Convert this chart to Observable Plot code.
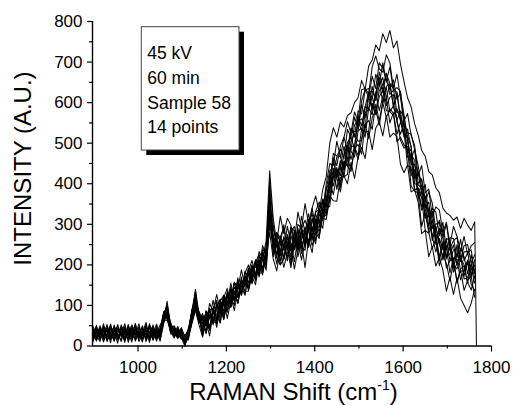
<!DOCTYPE html>
<html>
<head>
<meta charset="utf-8">
<script src="https://cdn.jsdelivr.net/npm/d3@7"></script>
<script src="https://cdn.jsdelivr.net/npm/@observablehq/plot@0.6"></script>
<style>
  html, body { margin: 0; padding: 0; background: #fff; }
  #chart svg { display: block; }
</style>
</head>
<body>
<div id="chart"></div>
<script>
// Raman shift positions (cm-1)
const ramanShift = [
  898,906,914,922,930,938,946,954,962,970,978,986,994,1002,1010,1018,1026,1034,1042,1050,
  1058,1066,1074,1082,1090,1098,1106,1114,1122,1130,1138,
  1146,1154,1162,1170,1178,1186,1194,1202,1210,1218,1226,1234,1242,1250,1258,1266,1274,1282,1290,
  1298,
  1306,1314,1322,1330,1338,1346,1354,1362,1370,1378,1386,1394,1402,1410,1418,1426,
  1434,1442,1450,1458,1466,1474,1482,1490,1498,1506,1514,1522,1530,1538,1546,1554,1562,1570,1578,1586,1594,
  1602,1610,1618,1626,1634,1642,1650,1658,1666,1674,1682,1690,1698,1706,1714,1722,1730,1738,1746,1754,1762,
  1766
];

// 14 measured spectra (intensity, A.U.)
const spectrum1 = [30,12,45,22,38,8,52,27,15,41,33,10,47,24,36,18,55,20,29,44,
  82,95,40,25,45,22,12,35,88,135,62,
  77,50,105,85,127,87,120,142,105,155,140,188,148,185,211,175,233,215,260,
  432,
  315,255,320,277,315,298,260,330,290,351,301,340,370,330,385,418,
  500,538,515,552,540,568,575,600,612,655,632,690,705,742,728,770,748,778,735,752,695,
  652,612,590,548,520,482,468,430,422,390,378,340,328,322,310,318,290,315,298,285,306,
  0];
const spectrum2 = [18,40,25,55,14,33,46,21,38,9,50,28,17,43,31,58,22,35,12,40,
  65,104,52,38,20,41,8,26,70,118,80,
  45,87,67,113,67,110,125,103,155,115,150,127,180,200,170,206,186,248,220,
  380,
  250,280,255,299,240,293,283,252,320,281,326,280,332,355,332,400,
  450,445,505,465,513,553,525,577,555,632,635,622,688,715,683,675,718,698,635,670,612,
  555,573,520,495,420,445,378,387,317,343,335,280,305,250,295,270,233,270,225,247,255];
const spectrum3 = [42,20,35,10,48,29,16,53,25,39,14,45,31,22,50,11,37,26,44,19,
  74,72,33,46,28,19,25,40,62,102,58,
  80,50,88,52,95,115,77,122,115,158,120,160,145,192,153,211,208,193,240,
  345,
  290,255,222,270,240,293,238,275,295,248,301,327,285,328,363,343,
  387,464,445,492,515,482,537,515,580,572,631,635,610,670,645,698,653,633,656,608,625,
  570,505,462,485,445,385,398,323,340,330,272,305,237,267,265,218,263,210,230,237,180];
const spectrum4 = [25,48,15,36,27,54,19,31,45,13,38,24,56,17,34,42,21,48,30,15,
  58,88,48,22,39,35,3,24,81,125,74,
  28,63,93,60,57,108,102,85,140,117,157,127,185,155,190,163,218,216,202,
  360,
  245,273,260,215,272,235,285,235,270,293,246,308,325,300,360,342,
  415,462,417,445,492,457,535,528,530,595,563,625,628,610,675,640,673,620,630,626,558,
  515,535,490,417,422,408,340,355,290,300,305,238,265,260,204,250,208,232,233,175,200];
const spectrum5 = [10,35,28,46,20,41,33,7,49,26,18,44,29,37,13,46,32,16,40,27,
  77,68,55,30,48,26,18,15,66,96,83,
  55,83,47,87,60,115,85,135,95,133,107,163,150,190,163,210,170,220,240,
  330,
  265,218,270,250,210,273,240,290,240,280,304,260,313,280,335,367,
  387,423,466,468,434,492,482,545,557,530,590,585,640,605,643,662,610,646,635,575,580,
  565,515,448,448,377,397,365,295,333,270,282,283,220,227,249,200,241,220,178,225,178];
const spectrum6 = [37,22,50,17,31,44,12,39,28,55,21,34,16,48,25,39,9,43,31,52,
  63,110,38,42,25,44,22,37,90,108,65,
  68,30,75,57,104,82,125,83,127,145,120,170,127,175,200,176,213,183,228,
  395,
  220,260,235,267,257,220,282,240,282,243,286,315,273,338,313,360,
  423,395,435,420,473,495,460,493,553,560,540,615,582,625,650,600,640,646,592,558,578,
  520,518,493,413,430,375,320,340,312,250,290,265,218,255,192,227,230,172,210,170,213];
const spectrum7 = [28,51,19,40,11,35,47,24,33,18,42,30,53,20,38,27,45,14,36,23,
  85,76,30,28,36,20,0,29,72,140,77,
  22,70,87,65,100,65,107,130,97,130,163,125,167,140,196,196,176,233,208,
  320,
  275,225,262,214,275,240,265,283,228,286,256,310,303,292,357,323,
  366,424,440,400,455,445,505,523,505,507,575,583,615,575,630,638,593,613,620,552,522,
  550,465,472,458,380,343,370,330,270,295,252,220,263,210,237,240,185,185,212,193,155];
const spectrum8 = [46,16,32,25,53,19,38,30,11,46,27,50,22,35,44,15,29,52,18,38,
  60,84,58,35,18,38,26,21,58,98,60,
  57,34,90,92,67,102,66,120,120,100,157,132,172,144,180,213,180,180,239,
  350,
  227,267,210,249,268,208,265,240,285,268,243,295,260,330,338,325,
  390,436,386,440,416,482,480,466,530,537,515,587,570,623,580,615,638,578,568,585,555,
  520,513,420,435,363,385,338,285,310,277,220,257,215,243,182,205,223,165,168,200,185];
const spectrum9 = [20,37,43,13,29,50,25,44,35,21,53,16,39,28,10,47,34,23,49,31,
  72,66,41,50,30,17,14,44,80,115,71,
  37,75,38,88,87,57,114,85,138,108,148,148,125,180,163,208,175,215,187,
  310,
  248,202,250,262,217,253,208,270,245,236,301,263,313,310,290,355,
  405,373,422,446,417,423,493,491,470,535,527,530,598,570,615,630,580,578,592,558,507,
  488,492,465,385,390,335,350,328,270,232,265,238,245,180,217,213,163,185,205,152,137];
const spectrum10 = [33,26,11,49,37,23,45,15,52,30,25,41,12,33,46,29,51,37,20,44,
  68,92,35,20,42,31,9,27,64,104,86,
  64,52,42,92,46,94,69,125,99,135,105,162,157,142,198,160,202,190,230,
  340,
  267,217,200,249,240,193,263,220,263,283,246,278,252,325,315,312,
  365,416,433,390,455,443,430,488,497,473,546,556,534,596,555,602,610,550,575,522,552,
  528,445,440,385,388,365,285,278,298,265,210,250,192,210,217,155,190,198,157,138,173];
const spectrum11 = [15,44,31,27,42,16,36,49,22,34,47,19,40,31,24,53,14,41,25,36,
  79,74,50,39,24,45,21,33,76,120,68,
  35,86,76,56,105,81,125,103,96,156,150,130,180,176,156,206,226,189,233,
  370,
  243,280,267,237,295,253,237,300,290,258,313,265,330,337,310,385,
  433,438,416,457,436,502,515,486,565,543,590,626,589,621,662,625,671,648,592,624,562,
  545,525,523,485,400,412,357,380,352,285,310,270,300,240,260,267,210,248,250,205,225];
const spectrum12 = [49,29,38,20,45,32,13,41,27,48,9,37,26,55,18,32,43,28,38,12,
  55,81,44,27,38,23,17,19,60,92,57,
  68,33,75,70,54,105,65,107,123,87,140,157,135,135,193,170,206,226,195,
  300,
  242,250,200,214,250,198,248,257,212,258,286,247,280,265,333,337,
  345,418,415,380,432,461,435,487,460,508,545,511,563,582,544,600,563,585,574,503,515,
  495,485,395,382,377,295,328,280,240,265,198,225,203,160,207,160,188,137,162,173,120];
const spectrum13 = [22,33,18,41,16,27,40,20,32,14,36,23,43,11,29,38,17,34,21,30,
  62,64,36,30,22,28,5,22,55,88,52,
  23,60,25,82,79,57,110,68,110,135,105,148,168,138,171,151,208,175,225,
  280,
  215,185,238,194,230,238,190,237,258,193,264,230,295,270,317,323,
  370,358,357,415,420,400,453,413,465,490,462,530,484,537,553,518,568,515,525,517,448,
  427,447,380,385,355,277,285,220,245,197,218,187,135,170,127,168,118,100,82,105,140];
const spectrum14 = [38,14,46,32,24,47,30,18,42,37,29,52,33,25,41,21,48,31,54,26,
  80,98,47,44,33,36,24,38,84,130,75,
  70,68,42,92,112,75,117,100,145,112,168,125,168,188,161,205,188,238,230,
  410,
  298,242,268,292,240,280,295,245,290,310,284,340,295,348,337,390,
  400,475,468,485,462,534,514,564,536,604,633,613,665,635,698,685,653,688,630,637,628,
  540,475,485,400,398,388,315,322,260,292,260,212,248,250,200,190,218,200,155,205,167];

const spectra = [spectrum1, spectrum2, spectrum3, spectrum4, spectrum5, spectrum6, spectrum7,
  spectrum8, spectrum9, spectrum10, spectrum11, spectrum12, spectrum13, spectrum14];

const xMajorTicks = [1000, 1200, 1400, 1600, 1800];
const xMinorTicks = [1100, 1300, 1500, 1700];
const yMajorTicks = [0, 100, 200, 300, 400, 500, 600, 700, 800];
const yMinorTicks = [50, 150, 250, 350, 450, 550, 650, 750];
const legendLines = ["45 kV", "60 min", "Sample 58", "14 points"];

const rows = [];
spectra.forEach((s, k) => {
  s.forEach((v, i) => {
    if (v != null && ramanShift[i] != null) rows.push({x: ramanShift[i], y: v, series: k});
  });
});

const W = 514, H = 406;
const font = "'Liberation Sans', Arial, sans-serif";
const chart = Plot.plot({
  width: W,
  height: H,
  marginLeft: 92,
  marginRight: 23,
  marginTop: 21,
  marginBottom: 60.5,
  style: {fontFamily: font, fontSize: "17px", color: "black", background: "white"},
  x: {domain: [897, 1800]},
  y: {domain: [0, 800]},
  marks: [
    Plot.line(rows, {x: "x", y: "y", z: "series", stroke: "black", strokeWidth: 1.05, strokeOpacity: 0.95}),
    Plot.ruleX([897], {stroke: "black", strokeWidth: 1.4}),
    Plot.ruleY([0], {stroke: "black", strokeWidth: 1.4}),
    Plot.axisX({ticks: xMajorTicks, tickFormat: d => String(d), tickSize: 6, tickPadding: 9, label: null, stroke: "black", strokeWidth: 1.2}),
    Plot.axisX({ticks: xMinorTicks, tickSize: 3, text: null, label: null, stroke: "black", strokeWidth: 1.2}),
    Plot.axisY({ticks: yMajorTicks, tickFormat: d => String(d), tickSize: 5, tickPadding: 5, label: null, stroke: "black", strokeWidth: 1.2}),
    Plot.axisY({ticks: yMinorTicks, tickSize: 3, text: null, label: null, stroke: "black", strokeWidth: 1.2})
  ]
});
document.getElementById("chart").appendChild(chart);

const svg = d3.select(chart);

// Y axis title
svg.append("text")
  .attr("transform", "translate(31,168.5) rotate(-90)")
  .attr("text-anchor", "middle")
  .attr("font-family", font)
  .attr("font-size", 24)
  .attr("fill", "black")
  .text("INTENSITY (A.U.)");

// X axis title with superscript
const xt = svg.append("text")
  .attr("x", 293.5)
  .attr("y", 399.5)
  .attr("text-anchor", "middle")
  .attr("font-family", font)
  .attr("font-size", 24)
  .attr("fill", "black");
xt.append("tspan").text("RAMAN Shift (cm");
xt.append("tspan").attr("font-size", 14).attr("dy", -10).text("-1");
xt.append("tspan").attr("dy", 10).text(")");

// Legend box with drop shadow
const bx = 141.3, by = 26.7, bw = 97.7, bh = 123.3;
svg.append("rect").attr("x", bx + 5).attr("y", by + 5).attr("width", bw).attr("height", bh).attr("fill", "black");
svg.append("rect").attr("x", bx).attr("y", by).attr("width", bw).attr("height", bh)
  .attr("fill", "white").attr("stroke", "#444").attr("stroke-width", 1);
legendLines.forEach((t, i) => {
  svg.append("text")
    .attr("x", 147.3)
    .attr("y", 59.3 + i * 24.6)
    .attr("text-anchor", "start")
    .attr("font-family", font)
    .attr("font-size", 17.5)
    .attr("fill", "black")
    .text(t);
});
</script>
</body>
</html>
